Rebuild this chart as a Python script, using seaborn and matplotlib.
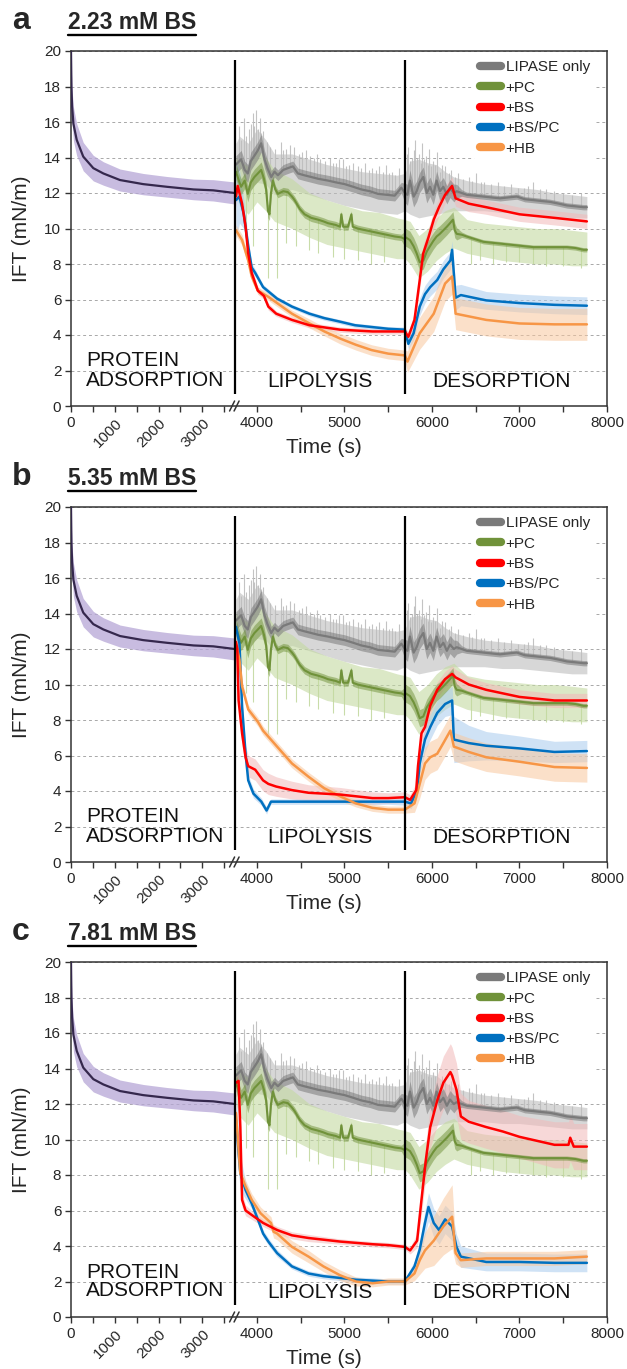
import numpy as np
import matplotlib
matplotlib.use("Agg")
import matplotlib.pyplot as plt
from matplotlib.lines import Line2D
import seaborn as sns

# ---------------- data ----------------
# protein adsorption (shared by all panels)
prot_t = [0, 10, 25, 55, 130, 280, 510, 740, 1120, 1650, 2190, 2800, 3250, 3740]
prot_v = [20.0, 18.0, 16.9, 15.9, 15.0, 14.05, 13.4, 13.1, 12.73, 12.5, 12.35, 12.2, 12.15, 12.0]
prot_sd = [0.3, 0.8, 0.9, 0.95, 0.9, 0.8, 0.72, 0.66, 0.62, 0.6, 0.58, 0.58, 0.6, 0.62]

# LIPASE only (shared)
lip_t = [3760, 3819, 3860, 3895, 3930, 3971, 4010, 4048, 4086, 4120, 4163, 4200, 4239, 4300, 4353,
         4410, 4468, 4540, 4621, 4700, 4811, 4900, 5002, 5100, 5193, 5290, 5383, 5480, 5574, 5650,
         5690, 5720, 5748, 5790, 5825, 5860, 5901, 5940, 5977, 6015, 6053, 6090, 6130, 6170, 6206,
         6250, 6282, 6340, 6397, 6490, 6587, 6680, 6778, 6870, 6969, 7060, 7159, 7250, 7350, 7450,
         7541, 7640, 7731, 7770]
lip_v = [13.6, 13.9, 13.3, 13.1, 13.8, 14.1, 14.4, 14.8, 13.9, 13.4, 12.9, 13.2, 13.0, 13.3, 13.4,
         13.5, 13.1, 13.0, 12.9, 12.8, 12.7, 12.6, 12.5, 12.35, 12.2, 12.1, 11.95, 11.9, 11.85, 12.3,
         12.0, 11.9, 12.7, 11.8, 12.1, 12.6, 12.9, 12.0, 12.35, 11.9, 12.7, 12.1, 12.35, 11.9, 12.25,
         12.0, 12.1, 12.0, 11.9, 11.85, 11.8, 11.75, 11.7, 11.75, 11.8, 11.65, 11.6, 11.55, 11.5, 11.4,
         11.3, 11.25, 11.2, 11.2]
lip_noise_t = [3760, 4100, 4200, 5650, 5700, 6250, 6350, 7770]
lip_noise_e = [0.5, 0.5, 0.3, 0.3, 0.6, 0.5, 0.15, 0.15]
lip_band_t = [3760, 3800, 3900, 4000, 4100, 4200, 4400, 4600, 4800, 5000, 5200, 5400, 5600, 5690,
              5750, 5850, 5950, 6050, 6150, 6250, 6400, 6600, 6800, 7000, 7200, 7400, 7600, 7770]
lip_band_hi = [14.8, 15.2, 14.8, 15.6, 15.0, 14.2, 14.2, 13.9, 13.6, 13.4, 13.2, 13.1, 13.0, 13.1,
               13.8, 13.9, 13.7, 13.6, 13.2, 12.9, 12.7, 12.5, 12.4, 12.3, 12.2, 12.0, 11.9, 11.8]
lip_band_lo = [12.4, 12.6, 12.0, 12.6, 12.5, 11.9, 12.2, 11.9, 11.6, 11.3, 11.1, 10.9, 10.8, 11.0,
               10.8, 10.6, 10.7, 10.8, 10.9, 11.0, 11.0, 11.0, 10.9, 10.9, 10.8, 10.7, 10.6, 10.6]
lip_spk_t = [3790, 3820, 3850, 3880, 3905, 3930, 3950, 3970, 3990, 4010, 4030, 4050, 4070, 4110,
             4150, 4210, 4270, 4300, 4330, 4380, 4420, 4480, 4520, 4560, 4610, 4650, 4690, 4720,
             4780, 4830, 4870, 4900, 4940, 4980, 5020, 5050, 5100, 5150, 5190, 5230, 5280, 5320,
             5360, 5400, 5440, 5470, 5510, 5540, 5580, 5620,
             5720, 5730, 5750, 5770, 5790, 5810, 5830, 5850, 5870, 5890, 5910, 5930, 5950, 5970,
             5990, 6010, 6040, 6060, 6090, 6110, 6150, 6190, 6220, 6260, 6300, 6360, 6420, 6460,
             6500, 6560, 6600, 6680, 6750, 6820, 6900, 6980, 7050, 7100, 7150, 7230, 7300, 7400,
             7500, 7600, 7700]
lip_spk_top = [15.8, 15.0, 16.2, 15.2, 15.6, 15.9, 16.5, 15.8, 16.7, 15.6, 16.2, 15.4, 15.5, 14.9,
               14.6, 14.5, 14.9, 14.4, 14.5, 14.7, 14.6, 14.2, 14.3, 14.4, 14.1, 14.0, 14.2, 13.9,
               13.8, 14.0, 13.7, 13.7, 13.9, 13.9, 13.5, 13.6, 13.7, 13.5, 13.4, 13.7, 13.3, 13.4,
               13.3, 13.5, 13.2, 13.6, 13.1, 13.2, 13.0, 13.4,
               14.2, 14.6, 13.8, 14.0, 14.4, 15.0, 14.0, 14.2, 13.7, 14.8, 13.9, 14.1, 13.6, 14.5,
               13.5, 13.8, 13.6, 14.3, 13.2, 13.6, 13.5, 13.1, 13.3, 12.9, 13.1, 12.8, 12.9, 12.7,
               13.1, 12.6, 12.6, 12.5, 12.6, 12.4, 12.5, 12.3, 12.3, 12.4, 12.6, 12.2, 12.2, 12.1,
               12.0, 11.9, 12.0]

# +PC (shared)
pc_t = [3760, 3800, 3819, 3860, 3895, 3930, 3971, 4010, 4048, 4080, 4105, 4125, 4143, 4160, 4181,
        4210, 4239, 4300, 4353, 4400, 4430, 4490, 4544, 4620, 4697, 4760, 4811, 4900, 4950, 4964,
        4985, 5040, 5079, 5095, 5150, 5193, 5290, 5383, 5480, 5574, 5650, 5690,
        5700, 5748, 5790, 5825, 5860, 5901, 5940, 5977, 6015, 6053, 6090, 6130, 6170, 6206, 6240,
        6260, 6282, 6340, 6397, 6490, 6587, 6680, 6778, 6870, 6969, 7060, 7159, 7250, 7350, 7450,
        7541, 7640, 7731, 7770]
pc_v = [13.2, 12.6, 12.35, 12.7, 11.95, 12.6, 12.9, 13.1, 13.3, 12.8, 12.2, 11.0, 10.8, 12.0, 12.7,
        12.2, 11.95, 12.1, 12.05, 11.8, 11.6, 11.1, 10.8, 10.6, 10.5, 10.4, 10.3, 10.2, 10.1, 10.8,
        10.1, 10.1, 10.8, 10.1, 10.0, 9.95, 9.85, 9.75, 9.65, 9.55, 9.5, 9.4,
        9.5, 9.35, 9.0, 8.6, 8.1, 8.2, 8.7, 9.0, 9.3, 9.55, 9.7, 9.9, 10.1, 10.3, 10.5,
        9.9, 9.7, 9.65, 9.55, 9.4, 9.25, 9.2, 9.15, 9.1, 9.05, 9.0, 8.95, 8.95, 8.95, 8.95,
        8.95, 8.9, 8.8, 8.8]
pc_noise_t = [3760, 4100, 4200, 5650, 5700, 6250, 6350, 7770]
pc_noise_e = [0.45, 0.45, 0.22, 0.18, 0.5, 0.45, 0.12, 0.12]
pc_band_t = lip_band_t
pc_band_hi = [14.0, 13.8, 13.5, 14.5, 14.0, 13.3, 12.8, 12.0, 11.6, 11.3, 11.0, 10.9, 10.6, 10.5,
              10.4, 9.6, 10.0, 10.6, 11.0, 11.2, 10.5, 10.3, 10.2, 10.1, 10.0, 10.0, 9.9, 9.8]
pc_band_lo = [12.0, 11.3, 10.8, 11.5, 11.0, 10.4, 10.0, 9.5, 9.1, 8.9, 8.7, 8.5, 8.3, 8.3,
              8.0, 7.2, 7.6, 8.2, 8.6, 8.9, 8.6, 8.4, 8.2, 8.1, 8.0, 8.0, 7.9, 7.9]
pc_spk_t = [3880, 3960, 4124, 4227, 4330, 4450, 4600, 4700, 4870, 5000, 5150, 5300, 5450,
            6450, 6550, 6700, 6850, 7000, 7150, 7300, 7500, 7700]
pc_spk_bot = [9.5, 9.0, 7.2, 7.2, 9.2, 9.0, 8.8, 8.6, 8.4, 8.3, 8.2, 8.0, 8.1,
              8.0, 8.2, 8.0, 8.1, 8.1, 8.0, 7.9, 7.9, 7.8]

# ---- panel a : 2.23 mM BS ----
a_bs_t = [3760, 3780, 3830, 3870, 3900, 3940, 4010, 4080, 4130, 4220, 4400, 4600, 4950, 5320, 5500,
          5690, 5730, 5800, 5860, 5900, 5960, 6020, 6080, 6150, 6230, 6270, 6420, 6620, 7000, 7400, 7770]
a_bs_v = [11.8, 12.4, 11.4, 10.1, 8.6, 7.5, 6.5, 6.2, 5.6, 5.2, 4.85, 4.55, 4.3, 4.2, 4.2,
          4.2, 3.9, 4.85, 7.1, 8.6, 9.5, 10.5, 11.2, 11.9, 12.4, 11.7, 11.4, 11.2, 10.8, 10.6, 10.4]
a_bs_e = [0.6, 0.6, 0.5, 0.4, 0.3, 0.3, 0.2, 0.2, 0.2, 0.15, 0.15, 0.15, 0.15, 0.15, 0.15,
          0.15, 0.3, 0.4, 0.5, 0.5, 0.5, 0.5, 0.5, 0.5, 0.5, 0.45, 0.45, 0.4, 0.4, 0.4, 0.4]
a_pcbs_t = [3760, 3800, 3850, 3900, 3940, 3980, 4070, 4230, 4400, 4600, 4770, 4950, 5120, 5310, 5500,
            5690, 5730, 5790, 5860, 5920, 5980, 6060, 6130, 6210, 6230, 6270, 6330, 6620, 7000, 7400, 7770]
a_pcbs_v = [11.6, 11.8, 10.8, 9.0, 7.8, 7.5, 6.7, 6.05, 5.6, 5.2, 4.95, 4.75, 4.55, 4.45, 4.35,
            4.3, 3.5, 4.1, 5.6, 6.3, 6.7, 7.1, 7.7, 8.2, 8.8, 6.1, 6.25, 5.95, 5.8, 5.7, 5.65]
a_pcbs_e = [2.2, 1.5, 0.8, 0.4, 0.25, 0.2, 0.15, 0.12, 0.12, 0.12, 0.12, 0.12, 0.12, 0.12, 0.12,
            0.15, 0.3, 0.4, 0.5, 0.5, 0.5, 0.5, 0.5, 0.5, 0.5, 0.7, 0.6, 0.5, 0.5, 0.5, 0.5]
a_hb_t = [3760, 3830, 3900, 3940, 4010, 4130, 4230, 4400, 4600, 4770, 4950, 5130, 5310, 5500, 5690,
          5720, 5860, 6020, 6150, 6230, 6270, 6420, 6620, 7000, 7400, 7770]
a_hb_v = [9.9, 9.35, 8.2, 7.3, 6.5, 6.15, 5.8, 5.2, 4.65, 4.2, 3.8, 3.45, 3.15, 2.95, 2.85,
          2.5, 4.1, 5.2, 6.9, 7.3, 5.2, 5.05, 4.85, 4.65, 4.6, 4.6]
a_hb_e = [0.3, 0.3, 0.3, 0.25, 0.2, 0.2, 0.2, 0.2, 0.25, 0.25, 0.3, 0.3, 0.3, 0.3, 0.3,
          0.6, 0.9, 1.0, 1.0, 1.0, 0.9, 0.9, 0.9, 0.9, 0.9, 0.9]

# ---- panel b : 5.35 mM BS ----
b_bs_t = [3760, 3775, 3790, 3830, 3870, 3900, 3980, 4070, 4130, 4220, 4400, 4590, 4950, 5320, 5500,
          5690, 5750, 5820, 5840, 5880, 5920, 5980, 6060, 6150, 6230, 6270, 6420, 6620, 7000, 7400, 7770]
b_bs_v = [12.4, 12.0, 9.1, 7.25, 5.9, 5.4, 5.2, 4.6, 4.4, 4.25, 4.05, 3.9, 3.8, 3.6, 3.6,
          3.65, 3.5, 4.05, 5.4, 7.25, 7.6, 8.8, 9.7, 10.3, 10.6, 10.4, 10.0, 9.7, 9.3, 9.1, 9.1]
b_bs_e = [0.5, 0.6, 0.7, 0.7, 0.6, 0.6, 0.6, 0.6, 0.6, 0.55, 0.5, 0.45, 0.4, 0.35, 0.3,
          0.3, 0.3, 0.4, 0.5, 0.5, 0.5, 0.5, 0.45, 0.45, 0.45, 0.45, 0.4, 0.4, 0.4, 0.4, 0.4]
b_pcbs_t = [3760, 3800, 3830, 3870, 3900, 3960, 4050, 4110, 4130, 4160, 4400, 4950, 5500, 5690,
            5760, 5830, 5860, 5920, 5980, 6060, 6150, 6230, 6250, 6420, 6620, 7000, 7400, 7770]
b_pcbs_v = [13.25, 12.3, 8.75, 6.1, 4.6, 3.85, 3.4, 2.9, 3.1, 3.4, 3.4, 3.4, 3.4, 3.4,
            3.3, 4.05, 5.55, 6.9, 7.6, 8.4, 8.9, 9.1, 6.9, 6.7, 6.55, 6.4, 6.2, 6.25]
b_pcbs_e = [0.4, 0.5, 0.5, 0.4, 0.3, 0.25, 0.2, 0.2, 0.15, 0.15, 0.15, 0.15, 0.15, 0.2,
            0.3, 0.4, 0.6, 0.7, 0.7, 0.7, 0.7, 0.8, 1.3, 1.0, 0.8, 0.7, 0.6, 0.6]
b_hb_t = [3760, 3800, 3830, 3900, 4010, 4070, 4230, 4400, 4590, 4770, 4950, 5130, 5320, 5500, 5690,
          5800, 5860, 5920, 5980, 6060, 6130, 6210, 6250, 6420, 6620, 7000, 7400, 7770]
b_hb_v = [12.3, 11.4, 9.9, 8.6, 7.9, 7.4, 6.5, 5.55, 4.8, 4.15, 3.7, 3.3, 3.05, 2.95, 2.95,
          3.3, 4.4, 5.55, 5.9, 6.1, 6.7, 7.4, 6.5, 6.2, 5.9, 5.65, 5.35, 5.3]
b_hb_e = [0.4, 0.35, 0.3, 0.25, 0.25, 0.25, 0.25, 0.25, 0.25, 0.25, 0.25, 0.2, 0.2, 0.2, 0.2,
          0.5, 0.8, 0.9, 0.9, 0.9, 0.9, 0.9, 0.8, 0.8, 0.8, 0.8, 0.8, 0.8]

# ---- panel c : 7.81 mM BS ----
c_bs_t = [3760, 3790, 3810, 3830, 3870, 3940, 4070, 4230, 4400, 4590, 4950, 5320, 5500, 5690,
          5750, 5830, 5880, 5930, 5980, 6060, 6130, 6210, 6230, 6280, 6330, 6420, 6620, 6810,
          7000, 7400, 7560, 7580, 7620, 7770]
c_bs_v = [13.2, 13.3, 10.7, 6.6, 6.0, 5.75, 5.3, 4.9, 4.6, 4.45, 4.25, 4.1, 4.05, 3.95,
          3.75, 4.3, 6.6, 8.85, 10.7, 12.2, 13.2, 13.8, 13.6, 12.8, 11.3, 11.0, 10.7, 10.45,
          10.15, 9.7, 9.7, 10.1, 9.6, 9.6]
c_bs_e = [0.5, 0.5, 0.5, 0.4, 0.3, 0.25, 0.2, 0.2, 0.2, 0.2, 0.15, 0.15, 0.15, 0.15,
          0.2, 0.4, 0.8, 1.0, 1.2, 1.4, 1.5, 1.6, 1.6, 1.5, 1.3, 1.2, 1.2, 1.2,
          1.2, 1.3, 1.3, 1.3, 1.3, 1.3]
c_pcbs_t = [3760, 3810, 3870, 3940, 4010, 4070, 4130, 4230, 4400, 4590, 4760, 4950, 5130, 5320, 5500,
            5690, 5800, 5860, 5920, 5960, 6020, 6080, 6150, 6230, 6280, 6330, 6620, 7000, 7400, 7770]
c_pcbs_v = [11.1, 8.1, 7.15, 6.4, 5.5, 4.7, 4.25, 3.6, 2.85, 2.45, 2.3, 2.2, 2.1, 2.05, 2.0,
            2.0, 2.85, 3.8, 5.3, 6.2, 5.3, 4.9, 5.5, 5.1, 3.95, 3.4, 3.1, 3.1, 3.05, 3.05]
c_pcbs_e = [1.5, 1.0, 0.5, 0.3, 0.2, 0.2, 0.2, 0.2, 0.15, 0.15, 0.15, 0.15, 0.15, 0.15, 0.15,
            0.15, 0.3, 0.5, 0.7, 0.8, 0.8, 0.8, 0.8, 0.8, 0.7, 0.6, 0.5, 0.5, 0.5, 0.5]
c_hb_t = [3760, 3810, 3870, 3940, 4040, 4160, 4190, 4230, 4400, 4590, 4760, 4950, 5130, 5320, 5500,
          5690, 5800, 5860, 5920, 6020, 6130, 6230, 6270, 6330, 6620, 7000, 7400, 7770]
c_hb_v = [11.5, 8.1, 7.35, 6.6, 5.85, 5.3, 4.8, 4.7, 3.95, 3.4, 2.85, 2.35, 2.0, 1.9, 2.0,
          2.0, 2.45, 3.2, 3.75, 4.3, 5.1, 5.65, 3.6, 3.2, 3.3, 3.3, 3.3, 3.4]
c_hb_e = [0.4, 0.4, 0.35, 0.35, 0.35, 0.35, 0.35, 0.35, 0.35, 0.35, 0.3, 0.3, 0.25, 0.2, 0.2,
          0.2, 0.4, 0.8, 1.0, 1.4, 1.6, 1.8, 0.6, 0.4, 0.4, 0.4, 0.4, 0.4]

panel_letters = ["a", "b", "c"]
panel_titles = ["2.23 mM BS", "5.35 mM BS", "7.81 mM BS"]
series_labels = ["LIPASE only", "+PC", "+BS", "+BS/PC", "+HB"]
phase_labels = ["PROTEIN\nADSORPTION", "LIPOLYSIS", "DESORPTION"]
x_major = [0, 1000, 2000, 3000, 4000, 5000, 6000, 7000, 8000]
x_minor = [500, 1500, 2500, 3500, 4500, 5500, 6500, 7500]
y_ticks = [0, 2, 4, 6, 8, 10, 12, 14, 16, 18, 20]

# ---------------- styling ----------------
C_PROT, C_PROT_B = "#35284d", "#b6a6d6"
C_LIP, C_LIP_B = "#7a7a7a", "#bdbdbd"
C_PC, C_PC_B = "#70923a", "#c3d9a0"
C_BS, C_BS_B = "#ff0000", "#f2b8b8"
C_PCBS, C_PCBS_B = "#0070c0", "#a9cbee"
C_HB, C_HB_B = "#f79646", "#f8c79e"

T0 = 3750   # start of lipolysis (axis break)
T1 = 5690   # start of desorption


def fwd(t):
    t = np.asarray(t, dtype=float)
    return np.where(t < T0, t / 2.0, t - T0 / 2.0)


def inv(u):
    u = np.asarray(u, dtype=float)
    return np.where(u < T0 / 2.0, u * 2.0, u + T0 / 2.0)


sns.set_theme(style="white")
plt.rcParams["font.family"] = ["Liberation Sans", "DejaVu Sans"]

W, H = 627, 1369
fig = plt.figure(figsize=(W / 100, H / 100), dpi=100)

ax_left, ax_w, ax_h = 71 / W, 536 / W, 355 / H
tops_px = [51, 507, 962]

panels = [
    ((a_bs_t, a_bs_v, a_bs_e), (a_pcbs_t, a_pcbs_v, a_pcbs_e), (a_hb_t, a_hb_v, a_hb_e)),
    ((b_bs_t, b_bs_v, b_bs_e), (b_pcbs_t, b_pcbs_v, b_pcbs_e), (b_hb_t, b_hb_v, b_hb_e)),
    ((c_bs_t, c_bs_v, c_bs_e), (c_pcbs_t, c_pcbs_v, c_pcbs_e), (c_hb_t, c_hb_v, c_hb_e)),
]


def draw_line(ax, t, v, color, lw, z):
    sns.lineplot(x=t, y=v, ax=ax, color=color, lw=lw, estimator=None, sort=False,
                 zorder=z, legend=False)


renderer = fig.canvas.get_renderer()

lip_arr, pc_arr = np.array(lip_v), np.array(pc_v)
lip_ne = np.interp(lip_t, lip_noise_t, lip_noise_e)
pc_ne = np.interp(pc_t, pc_noise_t, pc_noise_e)

for i, (top_px, spec) in enumerate(zip(tops_px, panels)):
    bottom = 1 - (top_px + 355) / H
    ax = fig.add_axes([ax_left, bottom, ax_w, ax_h])
    ax.set_xscale("function", functions=(fwd, inv))

    # protein adsorption
    pt, pv, ps = np.array(prot_t), np.array(prot_v), np.array(prot_sd)
    ax.fill_between(pt, pv - ps, pv + ps, color=C_PROT_B, alpha=0.75, lw=0, zorder=1)
    draw_line(ax, prot_t, prot_v, C_PROT, 1.6, 6)

    # shared bands
    ax.fill_between(lip_band_t, lip_band_lo, lip_band_hi, color=C_LIP_B, alpha=0.6, lw=0, zorder=1)
    ax.vlines(lip_spk_t, np.interp(lip_spk_t, lip_t, lip_v), lip_spk_top, color=C_LIP_B,
              lw=0.8, alpha=0.9, zorder=1)
    ax.fill_between(pc_band_t, pc_band_lo, pc_band_hi, color=C_PC_B, alpha=0.6, lw=0, zorder=1)
    ax.vlines(pc_spk_t, pc_spk_bot, np.interp(pc_spk_t, pc_t, pc_v), color=C_PC_B,
              lw=0.8, alpha=0.9, zorder=1)

    cols = [(C_BS, C_BS_B), (C_PCBS, C_PCBS_B), (C_HB, C_HB_B)]
    for (t, v, e), (c, cb) in zip(spec, cols):
        t, v, e = np.array(t), np.array(v), np.array(e)
        ax.fill_between(t, v - e, v + e, color=cb, alpha=0.55, lw=0, zorder=2)

    # noisy thick cores of the shared traces
    ax.fill_between(lip_t, lip_arr - lip_ne, lip_arr + lip_ne, color=C_LIP, alpha=0.55, lw=0, zorder=4)
    ax.fill_between(pc_t, pc_arr - pc_ne, pc_arr + pc_ne, color=C_PC, alpha=0.5, lw=0, zorder=4)
    draw_line(ax, lip_t, lip_v, C_LIP, 1.6, 5)
    draw_line(ax, pc_t, pc_v, C_PC, 1.5, 5)
    zs = [7, 6, 6]
    for (t, v, e), (c, cb), z in zip(spec, cols, zs):
        draw_line(ax, t, v, c, 1.8, z)

    # phase separators
    ax.vlines([T0, T1], 0.7, 19.5, color="black", lw=1.6, zorder=8)

    # axes formatting
    ax.set_xlim(0, 8000)
    ax.set_ylim(0, 20)
    ax.set_yticks(y_ticks)
    ax.set_yticklabels([str(y) for y in y_ticks], fontsize=11)
    ax.set_xticks(x_major)
    ax.set_xticks(x_minor, minor=True)
    ax.set_xticklabels([str(x) for x in x_major], fontsize=11)
    for lbl in ax.get_xticklabels()[1:4]:
        lbl.set_rotation(45)
        lbl.set_ha("right")
        lbl.set_rotation_mode("anchor")
    ax.tick_params(axis="x", which="both", direction="out", length=4, width=1, color="#333333",
                   bottom=True, pad=3)
    ax.tick_params(axis="y", which="major", direction="out", length=4, width=1, color="#333333",
                   left=True, pad=3)
    ax.yaxis.grid(True, linestyle=(0, (3, 3)), color="#a8a8a8", lw=0.7)
    ax.xaxis.grid(False)
    for s in ax.spines.values():
        s.set_color("#333333")
        s.set_linewidth(1.1)

    ax.set_ylabel("IFT (mN/m)", fontsize=15)
    ax.yaxis.set_label_coords(-0.075, 0.5)
    ax.set_xlabel("Time (s)", fontsize=15)
    ax.xaxis.set_label_coords(0.472, -0.09)

    # axis break marks
    xb = float(fwd(T0) / fwd(8000))
    for dx in (-3.0, 1.5):
        ax.plot([xb + (dx - 2.5) / 536, xb + (dx + 2.5) / 536], [-5 / 355, 5 / 355],
                transform=ax.transAxes, color="#333333", lw=1.1, clip_on=False, zorder=9)

    # phase labels
    ax.text(340, 2.0, phase_labels[0], fontsize=15, ha="left", va="center",
            linespacing=1.0, color="#111111", zorder=9)
    ax.text(4720, 1.4, phase_labels[1], fontsize=15, ha="center", va="center",
            color="#111111", zorder=9)
    ax.text(6790, 1.4, phase_labels[2], fontsize=15, ha="center", va="center",
            color="#111111", zorder=9)

    # legend
    handles = [Line2D([0], [0], color=c, lw=6, solid_capstyle="round")
               for c in [C_LIP, C_PC, C_BS, C_PCBS, C_HB]]
    leg = ax.legend(handles, series_labels, loc="upper right", bbox_to_anchor=(0.985, 1.0),
                    fontsize=11, frameon=True, facecolor="white", edgecolor="none",
                    framealpha=1.0, handlelength=1.4, handletextpad=0.3, labelspacing=0.42,
                    borderpad=0.35, borderaxespad=0.25)
    leg.set_zorder(20)

    # panel letter and underlined title
    base_y = 1 - (top_px - 22) / H
    fig.text(12 / W, base_y, panel_letters[i], fontsize=23, fontweight="bold", va="baseline",
             ha="left")
    ttl = fig.text(68 / W, base_y, panel_titles[i], fontsize=16.5, fontweight="bold",
                   va="baseline", ha="left")
    bb = ttl.get_window_extent(renderer=renderer)
    uy = 1 - (top_px - 16) / H
    fig.add_artist(Line2D([bb.x0 / W, bb.x1 / W], [uy, uy], transform=fig.transFigure,
                          color="black", lw=1.7))

fig.savefig("out.png", dpi=100)
